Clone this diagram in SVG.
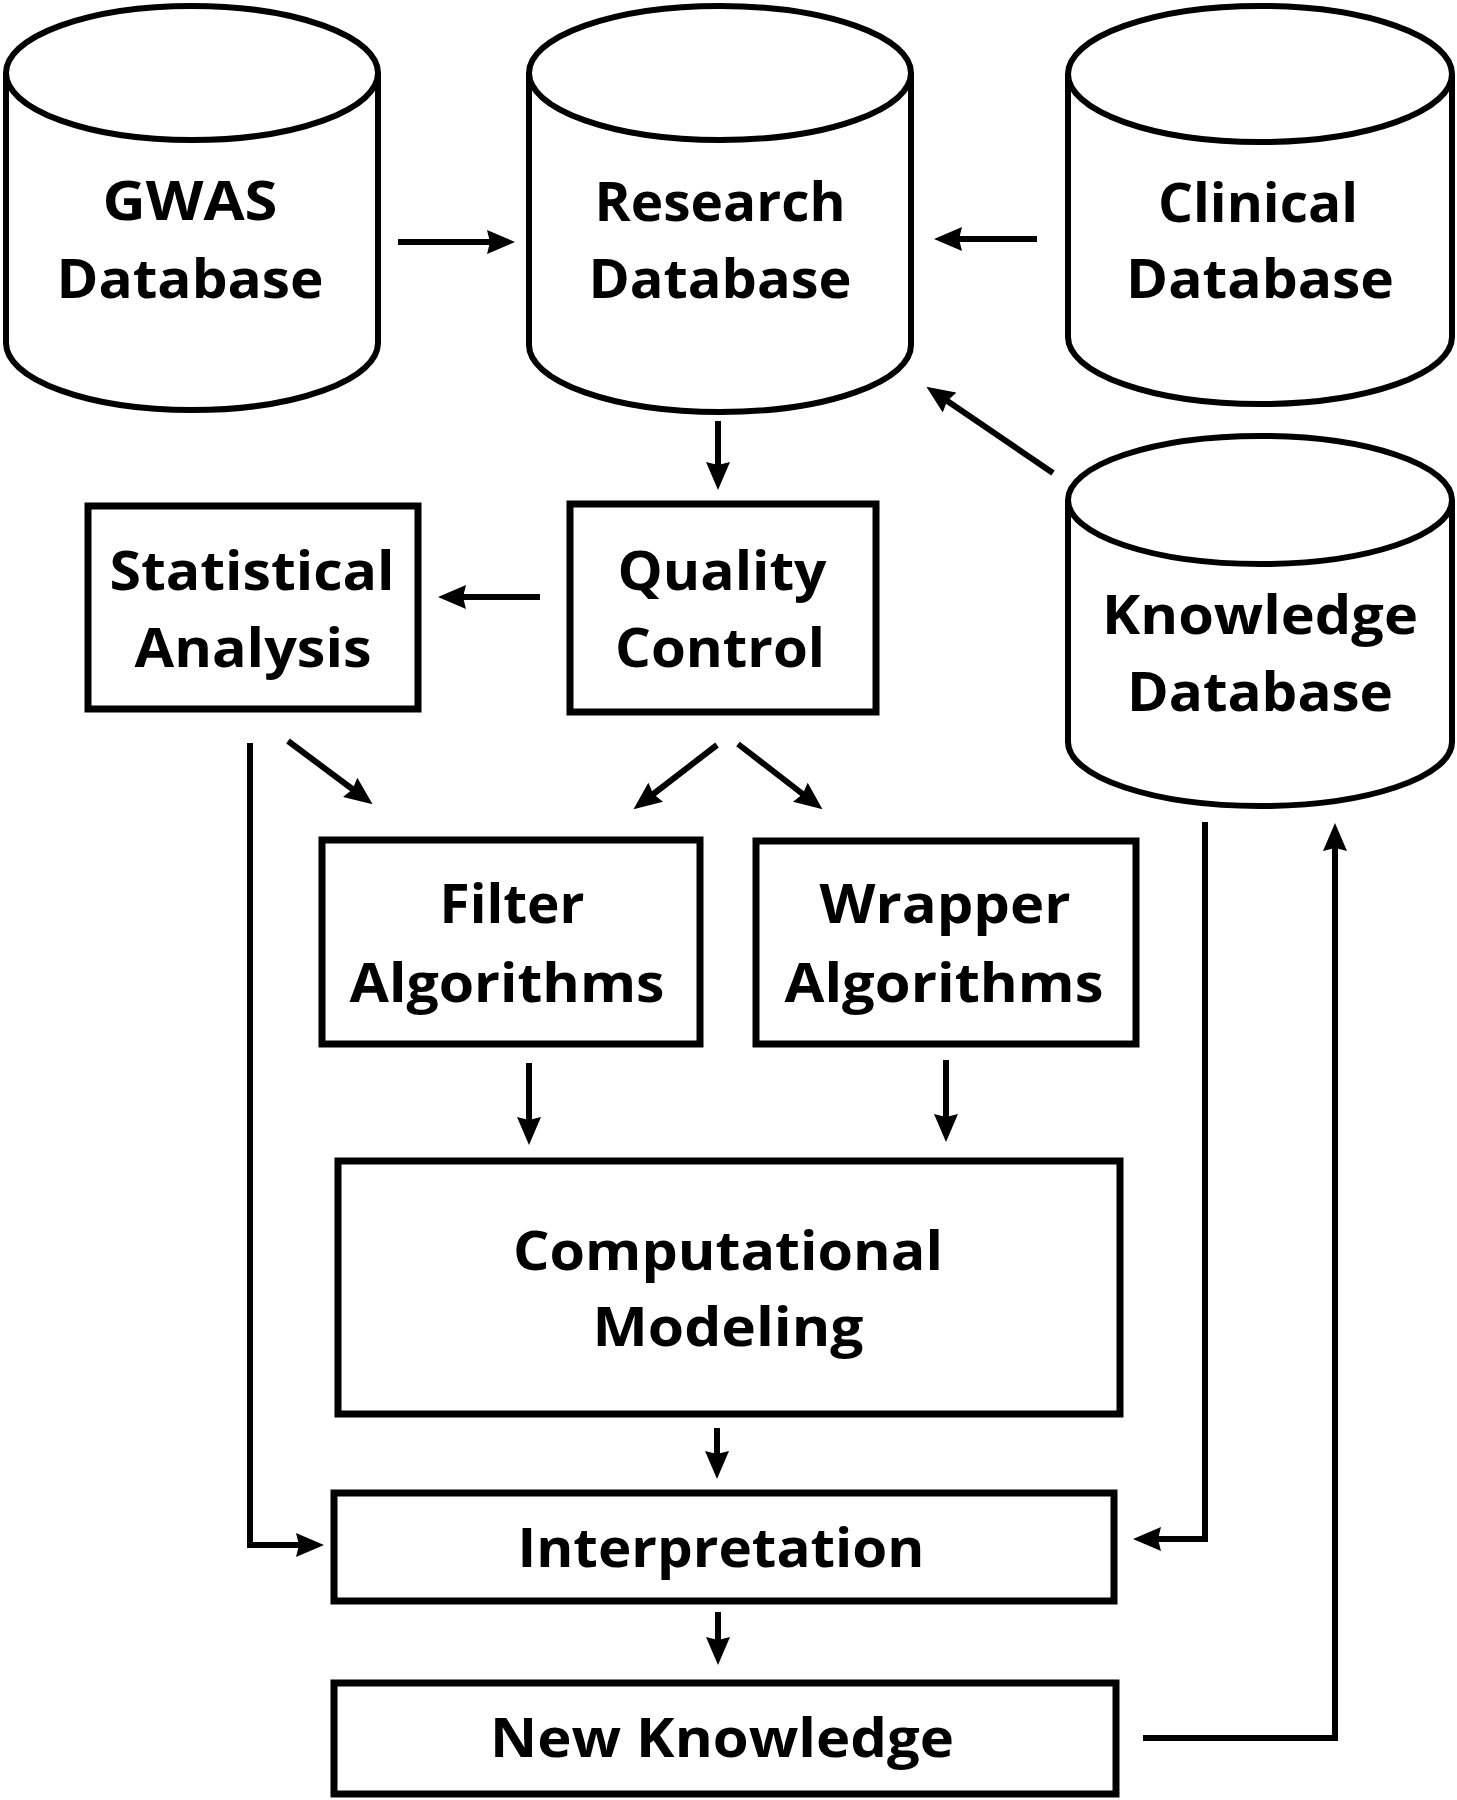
<svg xmlns="http://www.w3.org/2000/svg" width="1457" height="1800" viewBox="0 0 1457 1800">
<style>
  .shape { fill: #ffffff; stroke: #000000; stroke-width: 6; }
  .box { fill: #ffffff; stroke: #000000; stroke-width: 7; }
  .lbl { font-family: "Open Sans", "Liberation Sans", sans-serif; font-weight: 700; font-size: 54px; fill: #000000; text-anchor: middle; }
  .conn { fill: none; stroke: #000000; stroke-width: 6; }
  .arr { marker-end: url(#head); }
</style>
<defs>
  <marker id="head" markerUnits="userSpaceOnUse" markerWidth="28" markerHeight="24" viewBox="0 0 28 24" refX="16" refY="12" orient="auto">
    <path d="M0,0 L28,12 L0,24 L3,12 Z" fill="#000000"/>
  </marker>
</defs>
<rect x="0" y="0" width="1457" height="1800" fill="#ffffff"/>

<g id="gwas-db">
  <path class="shape" d="M6,73 L6,343 A186,67 0 0 0 378,343 L378,73"/>
  <ellipse class="shape" cx="192" cy="73" rx="186" ry="67"/>
  <text class="lbl" x="190" y="220" textLength="175" lengthAdjust="spacingAndGlyphs">GWAS</text>
  <text class="lbl" x="190" y="298" textLength="267" lengthAdjust="spacingAndGlyphs">Database</text>
</g>

<g id="research-db">
  <path class="shape" d="M529,73 L529,345 A191,67 0 0 0 911,345 L911,73"/>
  <ellipse class="shape" cx="720" cy="73" rx="191" ry="67"/>
  <text class="lbl" x="720" y="221" textLength="251" lengthAdjust="spacingAndGlyphs">Research</text>
  <text class="lbl" x="720" y="298" textLength="263" lengthAdjust="spacingAndGlyphs">Database</text>
</g>

<g id="clinical-db">
  <path class="shape" d="M1068,74 L1068,337 A192,67 0 0 0 1452,337 L1452,74"/>
  <ellipse class="shape" cx="1260" cy="74" rx="192" ry="68"/>
  <text class="lbl" x="1258" y="222" textLength="200" lengthAdjust="spacingAndGlyphs">Clinical</text>
  <text class="lbl" x="1260" y="298" textLength="268" lengthAdjust="spacingAndGlyphs">Database</text>
</g>

<g id="knowledge-db">
  <path class="shape" d="M1068,500 L1068,742 A192,64 0 0 0 1452,742 L1452,500"/>
  <ellipse class="shape" cx="1260" cy="500" rx="192" ry="64"/>
  <text class="lbl" x="1260" y="634" textLength="316" lengthAdjust="spacingAndGlyphs">Knowledge</text>
  <text class="lbl" x="1260" y="711" textLength="266" lengthAdjust="spacingAndGlyphs">Database</text>
</g>

<g id="statistical-analysis">
  <rect class="box" x="88" y="506" width="330" height="203"/>
  <text class="lbl" x="252" y="590" textLength="285" lengthAdjust="spacingAndGlyphs">Statistical</text>
  <text class="lbl" x="253" y="667" textLength="237" lengthAdjust="spacingAndGlyphs">Analysis</text>
</g>

<g id="quality-control">
  <rect class="box" x="570" y="504" width="306" height="208"/>
  <text class="lbl" x="722" y="590" textLength="209" lengthAdjust="spacingAndGlyphs">Quality</text>
  <text class="lbl" x="720" y="667" textLength="210" lengthAdjust="spacingAndGlyphs">Control</text>
</g>

<g id="filter-algorithms">
  <rect class="box" x="322" y="840" width="378" height="204"/>
  <text class="lbl" x="512" y="923" textLength="145" lengthAdjust="spacingAndGlyphs">Filter</text>
  <text class="lbl" x="507" y="1002" textLength="315" lengthAdjust="spacingAndGlyphs">Algorithms</text>
</g>

<g id="wrapper-algorithms">
  <rect class="box" x="756" y="841" width="380" height="203"/>
  <text class="lbl" x="945" y="923" textLength="251" lengthAdjust="spacingAndGlyphs">Wrapper</text>
  <text class="lbl" x="944" y="1002" textLength="319" lengthAdjust="spacingAndGlyphs">Algorithms</text>
</g>

<g id="computational-modeling">
  <rect class="box" x="338" y="1161" width="782" height="253"/>
  <text class="lbl" x="728" y="1270" textLength="430" lengthAdjust="spacingAndGlyphs">Computational</text>
  <text class="lbl" x="728" y="1346" textLength="271" lengthAdjust="spacingAndGlyphs">Modeling</text>
</g>

<g id="interpretation">
  <rect class="box" x="334" y="1493" width="780" height="108"/>
  <text class="lbl" x="721" y="1567" textLength="407" lengthAdjust="spacingAndGlyphs">Interpretation</text>
</g>

<g id="new-knowledge">
  <rect class="box" x="334" y="1683" width="782" height="111"/>
  <text class="lbl" x="722" y="1757" textLength="464" lengthAdjust="spacingAndGlyphs">New Knowledge</text>
</g>

<g id="connectors">
  <path class="conn arr" d="M398,242 L503,242"/>
  <path class="conn arr" d="M1037,239 L946,239"/>
  <path class="conn arr" d="M1053,473 L936.3,393.6"/>
  <path class="conn arr" d="M718,421 L718,478"/>
  <path class="conn arr" d="M540,597 L450,597"/>
  <path class="conn arr" d="M288,741 L363,797"/>
  <path class="conn arr" d="M717,745 L643,802"/>
  <path class="conn arr" d="M738,744 L813,802"/>
  <path class="conn arr" d="M529,1063 L529,1133"/>
  <path class="conn arr" d="M946,1060 L946,1130"/>
  <path class="conn arr" d="M717,1428 L717,1467"/>
  <path class="conn arr" d="M718,1612 L718,1653"/>
  <path class="conn arr" d="M250,743 L250,1545 L312,1545"/>
  <path class="conn arr" d="M1205,822 L1205,1539 L1145,1539"/>
  <path class="conn arr" d="M1143,1738 L1335,1738 L1335,835"/>
</g>
</svg>
